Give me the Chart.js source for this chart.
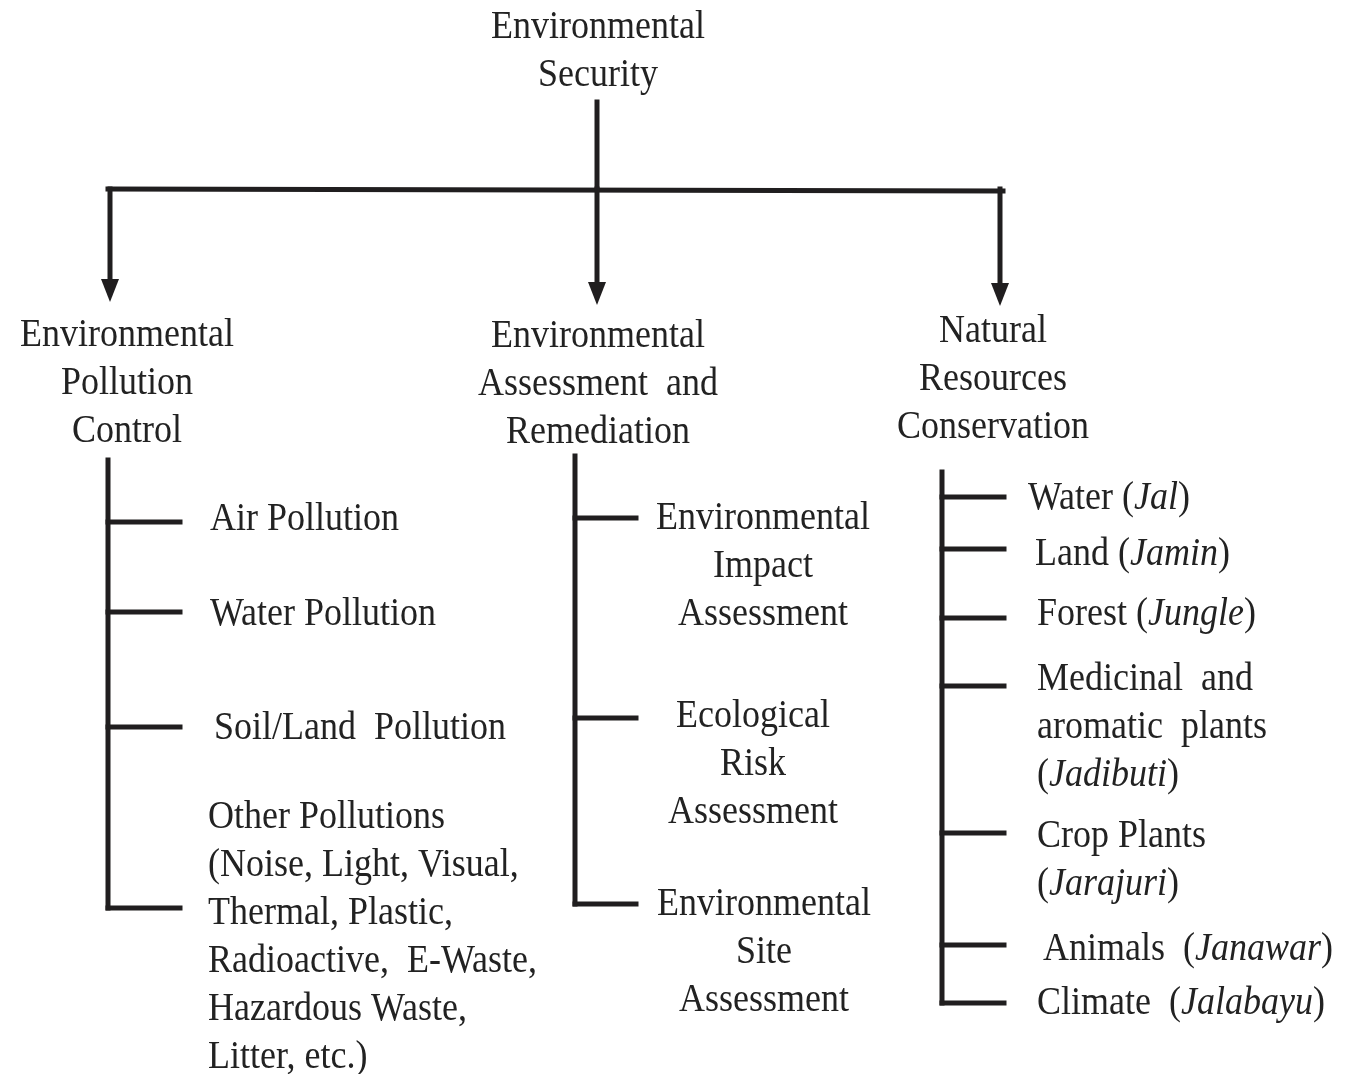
<!DOCTYPE html>
<html>
<head>
<meta charset="utf-8">
<script src="https://cdn.jsdelivr.net/npm/chart.js"></script>
<style>
html, body { margin: 0; padding: 0; background: #fff; }
#wrap { width: 1349px; height: 1074px; position: relative; }
</style>
</head>
<body>
<div id="wrap"><canvas id="tree"></canvas></div>
<script>
// Tree content (italic parts between *...*)
var rootLabel = ['Environmental', 'Security'];
var branchLabels = [
  ['Environmental', 'Pollution', 'Control'],
  ['Environmental', 'Assessment  and', 'Remediation'],
  ['Natural', 'Resources', 'Conservation']
];
var pollutionItems = [
  ['Air Pollution'],
  ['Water Pollution'],
  ['Soil/Land  Pollution'],
  ['Other Pollutions', '(Noise, Light, Visual,', 'Thermal, Plastic,', 'Radioactive,  E-Waste,', 'Hazardous Waste,', 'Litter, etc.)']
];
var assessmentItems = [
  ['Environmental', 'Impact', 'Assessment'],
  ['Ecological', 'Risk', 'Assessment'],
  ['Environmental', 'Site', 'Assessment']
];
var resourceItems = [
  ['Water (*Jal*)'],
  ['Land (*Jamin*)'],
  ['Forest (*Jungle*)'],
  ['Medicinal  and', 'aromatic  plants', '(*Jadibuti*)'],
  ['Crop Plants', '(*Jarajuri*)'],
  ['Animals  (*Janawar*)'],
  ['Climate  (*Jalabayu*)']
];
var childItems = [pollutionItems, assessmentItems, resourceItems];

// Layout (in the 1349 x 1074 frame)
var lineH = 48;
var textShift = 3;
var rootX = 598, rootTextY = 24, rootLineTop = 102;
var barY = 189, barLeft = 108, barRight = 1003;
var branchX = [110, 597, 1000];
var arrowTip = [302, 305, 306];
var headW = 18, headH = 23;
var branchTextX = [127, 598, 993];
var branchTextY = [332, 333, 328];
var trunkX = [108, 575, 942];
var trunkTop = [460, 456, 472];
var tickLen = [72, 61, 62];
var tickY = [
  [522, 612, 727, 908],
  [518, 718, 904],
  [497, 549, 618, 686, 833, 945, 1003]
];
var itemX = [
  [210, 210, 214, 208],
  [763, 753, 764],
  [1028, 1035, 1037, 1037, 1037, 1043, 1037]
];
var itemY = [
  [516, 611, 725, 814],
  [515, 713, 901],
  [495, 551, 611, 676, 833, 946, 1000]
];
var itemAlign = ['left', 'center', 'left'];
var ink = '#201e1f';
var fontFamily = '"Liberation Serif", "Times New Roman", serif';
var fontSize = 36;
var stretchY = 1.12;

function seg(x1, y1, x2, y2) {
  return {
    data: [{x: x1, y: y1}, {x: x2, y: y2}],
    showLine: true,
    borderColor: ink,
    borderWidth: 5,
    borderCapStyle: 'square',
    pointRadius: 0,
    clip: false
  };
}

// arrow head sprite
var head = document.createElement('canvas');
head.width = headW; head.height = headH;
var hc = head.getContext('2d');
hc.fillStyle = ink;
hc.beginPath();
hc.moveTo(0, 0); hc.lineTo(headW, 0); hc.lineTo(headW / 2, headH); hc.closePath();
hc.fill();

var datasets = [];
// root stem and bar
datasets.push(seg(rootX - 1, rootLineTop, branchX[1], barY));
datasets.push(seg(barLeft, barY, barRight, barY + 2));
for (var b = 0; b < 3; b++) {
  datasets.push(seg(branchX[b], barY, branchX[b], arrowTip[b] - headH + 2));
  var ticks = tickY[b];
  datasets.push(seg(trunkX[b], trunkTop[b], trunkX[b], ticks[ticks.length - 1]));
  for (var t = 0; t < ticks.length; t++) {
    datasets.push(seg(trunkX[b], ticks[t], trunkX[b] + tickLen[b], ticks[t]));
  }
}
// arrow heads
datasets.push({
  data: branchX.map(function (x, i) { return {x: x, y: arrowTip[i] - headH / 2}; }),
  showLine: false,
  pointStyle: head,
  pointRadius: headH / 2,
  clip: false
});

function drawLine(ctx, text, x, y, align) {
  var parts = text.split('*');
  var w = 0;
  parts.forEach(function (p, i) {
    ctx.font = (i % 2 ? 'italic ' : '') + fontSize + 'px ' + fontFamily;
    w += ctx.measureText(p).width;
  });
  var cx = align === 'center' ? x - w / 2 : x;
  ctx.save();
  ctx.translate(0, y);
  ctx.scale(1, stretchY);
  parts.forEach(function (p, i) {
    ctx.font = (i % 2 ? 'italic ' : '') + fontSize + 'px ' + fontFamily;
    ctx.fillText(p, cx, 0);
    cx += ctx.measureText(p).width;
  });
  ctx.restore();
}

var textPlugin = {
  id: 'treeText',
  afterDatasetsDraw: function (chart) {
    var ctx = chart.ctx;
    var sx = chart.scales.x, sy = chart.scales.y;
    ctx.save();
    ctx.fillStyle = '#222';
    ctx.textAlign = 'left';
    ctx.textBaseline = 'middle';
    rootLabel.forEach(function (l, i) {
      drawLine(ctx, l, sx.getPixelForValue(rootX), sy.getPixelForValue(rootTextY + i * lineH + textShift), 'center');
    });
    branchLabels.forEach(function (lines, b) {
      lines.forEach(function (l, i) {
        drawLine(ctx, l, sx.getPixelForValue(branchTextX[b]), sy.getPixelForValue(branchTextY[b] + i * lineH + textShift), 'center');
      });
    });
    childItems.forEach(function (items, b) {
      items.forEach(function (lines, k) {
        lines.forEach(function (l, i) {
          drawLine(ctx, l, sx.getPixelForValue(itemX[b][k]), sy.getPixelForValue(itemY[b][k] + i * lineH + textShift), itemAlign[b]);
        });
      });
    });
    ctx.restore();
  }
};

var chart = new Chart(document.getElementById('tree').getContext('2d'), {
  type: 'scatter',
  data: { datasets: datasets },
  options: {
    responsive: true,
    maintainAspectRatio: false,
    animation: false,
    layout: { padding: 0, autoPadding: false },
    scales: {
      x: { type: 'linear', min: 0, max: 1349, display: false },
      y: { type: 'linear', min: 0, max: 1074, reverse: true, display: false }
    },
    plugins: { legend: { display: false }, tooltip: { enabled: false } },
    events: []
  },
  plugins: [textPlugin]
});
</script>
</body>
</html>
